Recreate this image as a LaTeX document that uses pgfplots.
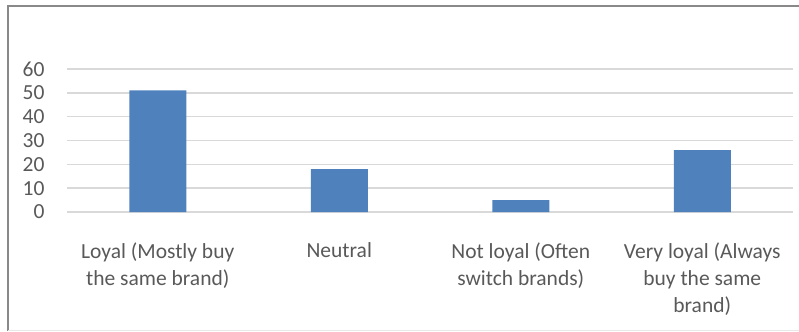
\documentclass[border=0pt]{standalone}
\usepackage{pgfplots}
\pgfplotsset{compat=1.18}
\usepackage{fontspec}
\setmainfont{Carlito}
\definecolor{barblue}{HTML}{4F81BD}
\definecolor{gridgray}{HTML}{D9D9D9}
\definecolor{txtgray}{HTML}{595959}
\definecolor{framegray}{HTML}{898989}
\begin{document}
\begin{tikzpicture}[x=1bp,y=1bp]
\useasboundingbox (0,0) rectangle (799,331);
\draw[framegray, line width=2bp] (8,0) -- (8,325) -- (799,325);
\draw[gridgray!60, line width=1bp] (8,1) -- (799,1);
\begin{axis}[
  at={(67bp,119bp)}, anchor=south west,
  scale only axis, width=726bp, height=143bp,
  xmin=-0.5, xmax=3.5, ymin=0, ymax=60,
  axis line style={draw=none},
  ybar, bar width=57bp,
  bar shift=0pt,
  xtick={0,1,2,3},
  xticklabels={{Loyal (Mostly buy\\the same brand)},{Neutral},{Not loyal (Often\\switch brands)},{Very loyal (Always\\buy the same\\brand)}},
  ytick={0,10,...,60},
  ymajorgrids,
  major grid style={gridgray, line width=1.5bp},
  tick style={draw=none},
  every tick label/.append style={font=\fontsize{21.5bp}{27bp}\selectfont, text=txtgray},
  xticklabel style={align=center, anchor=north, yshift=-23bp},
  yticklabel style={anchor=east, xshift=-19bp},
  /pgf/number format/assume math mode=true,
  clip=false,
]
\addplot[fill=barblue, draw=none] coordinates {(0,51) (1,18) (2,5) (3,26)};
\end{axis}
\end{tikzpicture}
\end{document}
